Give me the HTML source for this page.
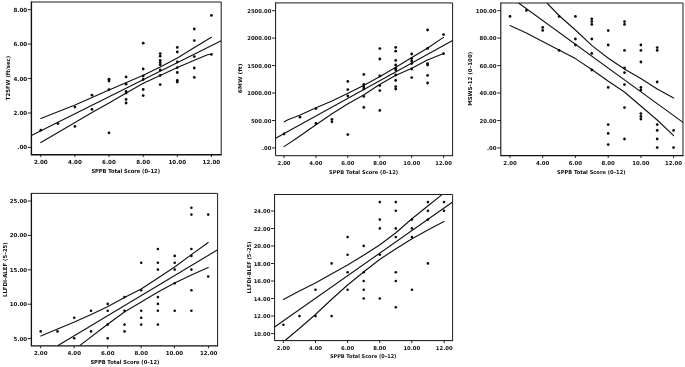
<!DOCTYPE html>
<html><head><meta charset="utf-8"><title>SPPB scatter plots</title>
<style>
html,body{margin:0;padding:0;background:#fff;}
body{width:685px;height:367px;overflow:hidden;}
svg{display:block;will-change:transform;}
text{font-family:'DejaVu Sans','Liberation Sans',sans-serif;font-weight:bold;fill:#111;}
.ln{fill:none;stroke:#111;stroke-width:1.12;stroke-linejoin:round;stroke-linecap:round;}
.d{fill:#0a0a0a;}
</style></head><body>
<svg width="685" height="367" viewBox="0 0 685 367">
<rect width="685" height="367" fill="#fff"/>
<g style="font-size:5.6px">
<path d="M31.4 2.0H221.2V154.7" fill="none" stroke="#1c1c1c" stroke-width="1"/>
<path d="M31.4 1.5V154.7H221.7" fill="none" stroke="#111" stroke-width="1.4"/>
<path d="M27.8 9.7h3.6M27.8 44.1h3.6M27.8 78.5h3.6M27.8 113.0h3.6M27.8 147.4h3.6M40.8 154.7v2.4M74.9 154.7v2.4M109.0 154.7v2.4M143.2 154.7v2.4M177.3 154.7v2.4M211.4 154.7v2.4" stroke="#111" stroke-width="0.9" fill="none"/>
<text class="tk" x="27.2" y="11.7" text-anchor="end">8.00</text>
<text class="tk" x="27.2" y="46.1" text-anchor="end">6.00</text>
<text class="tk" x="27.2" y="80.5" text-anchor="end">4.00</text>
<text class="tk" x="27.2" y="115.0" text-anchor="end">2.00</text>
<text class="tk" x="27.2" y="149.4" text-anchor="end">.00</text>
<text class="tk" x="40.8" y="163.8" text-anchor="middle">2.00</text>
<text class="tk" x="74.9" y="163.8" text-anchor="middle">4.00</text>
<text class="tk" x="109.0" y="163.8" text-anchor="middle">6.00</text>
<text class="tk" x="143.2" y="163.8" text-anchor="middle">8.00</text>
<text class="tk" x="177.3" y="163.8" text-anchor="middle">10.00</text>
<text class="tk" x="211.4" y="163.8" text-anchor="middle">12.00</text>
<text class="tt" x="125.7" y="173.4" text-anchor="middle" textLength="68.6" lengthAdjust="spacingAndGlyphs">SPPB Total Score (0–12)</text>
<text class="tt" transform="translate(9.9 78.0) rotate(-90)" text-anchor="middle" textLength="44.4" lengthAdjust="spacingAndGlyphs">T25FW (ft/sec)</text>
<clipPath id="c1"><rect x="31.4" y="2.0" width="189.8" height="152.7"/></clipPath>
<g clip-path="url(#c1)">
<polyline class="ln" points="31.4,135.6 221.2,40.8"/>
<polyline class="ln" points="40.8,118.5 75.0,105.0 109.0,90.0 143.3,75.3 160.2,67.0 177.4,58.0 194.4,47.5 211.4,37.2"/>
<polyline class="ln" points="40.8,142.6 58.0,132.4 75.0,122.4 92.0,112.5 109.0,103.0 126.2,93.0 143.3,83.3 160.2,75.4 177.4,67.6 194.4,60.3 207.5,54.7 211.4,54.3"/>
</g>
<circle class="d" cx="40.8" cy="130.2" r="1.38"/>
<circle class="d" cx="57.9" cy="123.6" r="1.38"/>
<circle class="d" cx="74.9" cy="107.1" r="1.38"/>
<circle class="d" cx="74.9" cy="126.4" r="1.38"/>
<circle class="d" cx="92.0" cy="95.2" r="1.38"/>
<circle class="d" cx="92.0" cy="109.4" r="1.38"/>
<circle class="d" cx="109.0" cy="79.2" r="1.38"/>
<circle class="d" cx="109.0" cy="81.0" r="1.38"/>
<circle class="d" cx="109.0" cy="89.6" r="1.38"/>
<circle class="d" cx="109.0" cy="132.8" r="1.38"/>
<circle class="d" cx="126.1" cy="76.9" r="1.38"/>
<circle class="d" cx="126.1" cy="84.2" r="1.38"/>
<circle class="d" cx="126.1" cy="91.4" r="1.38"/>
<circle class="d" cx="126.1" cy="93.0" r="1.38"/>
<circle class="d" cx="126.1" cy="99.4" r="1.38"/>
<circle class="d" cx="126.1" cy="103.0" r="1.38"/>
<circle class="d" cx="143.2" cy="43.2" r="1.38"/>
<circle class="d" cx="143.2" cy="69.0" r="1.38"/>
<circle class="d" cx="143.2" cy="76.0" r="1.38"/>
<circle class="d" cx="143.2" cy="79.5" r="1.38"/>
<circle class="d" cx="143.2" cy="89.5" r="1.38"/>
<circle class="d" cx="143.2" cy="95.6" r="1.38"/>
<circle class="d" cx="160.2" cy="53.6" r="1.38"/>
<circle class="d" cx="160.2" cy="56.2" r="1.38"/>
<circle class="d" cx="160.2" cy="60.5" r="1.38"/>
<circle class="d" cx="160.2" cy="62.6" r="1.38"/>
<circle class="d" cx="160.2" cy="64.7" r="1.38"/>
<circle class="d" cx="160.2" cy="70.0" r="1.38"/>
<circle class="d" cx="160.2" cy="75.4" r="1.38"/>
<circle class="d" cx="160.2" cy="84.6" r="1.38"/>
<circle class="d" cx="177.3" cy="47.4" r="1.38"/>
<circle class="d" cx="177.3" cy="52.0" r="1.38"/>
<circle class="d" cx="177.3" cy="62.0" r="1.38"/>
<circle class="d" cx="177.3" cy="67.6" r="1.38"/>
<circle class="d" cx="177.3" cy="72.5" r="1.38"/>
<circle class="d" cx="177.3" cy="80.4" r="1.38"/>
<circle class="d" cx="177.3" cy="82.0" r="1.38"/>
<circle class="d" cx="194.3" cy="29.0" r="1.38"/>
<circle class="d" cx="194.3" cy="40.6" r="1.38"/>
<circle class="d" cx="194.3" cy="56.6" r="1.38"/>
<circle class="d" cx="194.3" cy="68.0" r="1.38"/>
<circle class="d" cx="194.3" cy="77.4" r="1.38"/>
<circle class="d" cx="211.4" cy="15.4" r="1.38"/>
<circle class="d" cx="211.4" cy="54.4" r="1.38"/>
</g>
<g style="font-size:5.3px">
<path d="M275.6 2.9H452.6V155.7" fill="none" stroke="#1c1c1c" stroke-width="1"/>
<path d="M275.6 2.4V155.7H453.1" fill="none" stroke="#111" stroke-width="1.0"/>
<path d="M272.0 10.7h3.6M272.0 38.1h3.6M272.0 65.6h3.6M272.0 93.0h3.6M272.0 120.5h3.6M272.0 147.9h3.6M284.0 155.7v2.4M315.9 155.7v2.4M347.8 155.7v2.4M379.8 155.7v2.4M411.7 155.7v2.4M443.6 155.7v2.4" stroke="#111" stroke-width="0.9" fill="none"/>
<text class="tk" x="271.4" y="12.7" text-anchor="end">2500.00</text>
<text class="tk" x="271.4" y="40.1" text-anchor="end">2000.00</text>
<text class="tk" x="271.4" y="67.6" text-anchor="end">1500.00</text>
<text class="tk" x="271.4" y="95.0" text-anchor="end">1000.00</text>
<text class="tk" x="271.4" y="122.5" text-anchor="end">500.00</text>
<text class="tk" x="271.4" y="149.9" text-anchor="end">.00</text>
<text class="tk" x="284.0" y="164.9" text-anchor="middle">2.00</text>
<text class="tk" x="315.9" y="164.9" text-anchor="middle">4.00</text>
<text class="tk" x="347.8" y="164.9" text-anchor="middle">6.00</text>
<text class="tk" x="379.8" y="164.9" text-anchor="middle">8.00</text>
<text class="tk" x="411.7" y="164.9" text-anchor="middle">10.00</text>
<text class="tk" x="443.6" y="164.9" text-anchor="middle">12.00</text>
<text class="tt" x="363.6" y="174.2" text-anchor="middle" textLength="69.0" lengthAdjust="spacingAndGlyphs">SPPB Total Score (0–12)</text>
<text class="tt" transform="translate(242.4 78.4) rotate(-90)" text-anchor="middle" textLength="29.5" lengthAdjust="spacingAndGlyphs">6MW (ft)</text>
<clipPath id="c2"><rect x="275.6" y="2.9" width="177.0" height="152.8"/></clipPath>
<g clip-path="url(#c2)">
<polyline class="ln" points="275.6,138.3 452.6,40.5"/>
<polyline class="ln" points="284.2,121.8 288.0,119.8 300.2,115.0 316.0,107.8 332.0,101.0 348.0,93.2 364.0,85.2 379.6,76.8 395.4,67.6 411.4,57.8 427.4,48.2 443.4,37.4"/>
<polyline class="ln" points="284.0,146.6 297.0,138.0 316.0,124.8 332.0,113.7 348.0,103.8 364.0,94.7 379.6,84.5 395.4,75.5 411.4,68.4 427.4,60.0 443.6,53.6"/>
</g>
<circle class="d" cx="284.0" cy="134.0" r="1.38"/>
<circle class="d" cx="300.0" cy="117.2" r="1.38"/>
<circle class="d" cx="315.9" cy="108.6" r="1.38"/>
<circle class="d" cx="315.9" cy="123.4" r="1.38"/>
<circle class="d" cx="331.9" cy="119.4" r="1.38"/>
<circle class="d" cx="331.9" cy="121.8" r="1.38"/>
<circle class="d" cx="347.8" cy="81.4" r="1.38"/>
<circle class="d" cx="347.8" cy="89.6" r="1.38"/>
<circle class="d" cx="347.8" cy="96.0" r="1.38"/>
<circle class="d" cx="347.8" cy="134.6" r="1.38"/>
<circle class="d" cx="363.8" cy="74.4" r="1.38"/>
<circle class="d" cx="363.8" cy="84.4" r="1.38"/>
<circle class="d" cx="363.8" cy="87.0" r="1.38"/>
<circle class="d" cx="363.8" cy="89.0" r="1.38"/>
<circle class="d" cx="363.8" cy="96.4" r="1.38"/>
<circle class="d" cx="363.8" cy="107.4" r="1.38"/>
<circle class="d" cx="379.8" cy="48.6" r="1.38"/>
<circle class="d" cx="379.8" cy="59.0" r="1.38"/>
<circle class="d" cx="379.8" cy="76.0" r="1.38"/>
<circle class="d" cx="379.8" cy="85.6" r="1.38"/>
<circle class="d" cx="379.8" cy="90.6" r="1.38"/>
<circle class="d" cx="379.8" cy="110.4" r="1.38"/>
<circle class="d" cx="395.7" cy="47.4" r="1.38"/>
<circle class="d" cx="395.7" cy="51.2" r="1.38"/>
<circle class="d" cx="395.7" cy="60.4" r="1.38"/>
<circle class="d" cx="395.7" cy="65.0" r="1.38"/>
<circle class="d" cx="395.7" cy="68.2" r="1.38"/>
<circle class="d" cx="395.7" cy="70.0" r="1.38"/>
<circle class="d" cx="395.7" cy="75.0" r="1.38"/>
<circle class="d" cx="395.7" cy="80.4" r="1.38"/>
<circle class="d" cx="395.7" cy="86.6" r="1.38"/>
<circle class="d" cx="395.7" cy="89.0" r="1.38"/>
<circle class="d" cx="411.7" cy="54.0" r="1.38"/>
<circle class="d" cx="411.7" cy="58.6" r="1.38"/>
<circle class="d" cx="411.7" cy="61.0" r="1.38"/>
<circle class="d" cx="411.7" cy="63.6" r="1.38"/>
<circle class="d" cx="411.7" cy="69.0" r="1.38"/>
<circle class="d" cx="411.7" cy="77.6" r="1.38"/>
<circle class="d" cx="427.6" cy="30.0" r="1.38"/>
<circle class="d" cx="427.6" cy="48.4" r="1.38"/>
<circle class="d" cx="427.6" cy="63.6" r="1.38"/>
<circle class="d" cx="427.6" cy="65.0" r="1.38"/>
<circle class="d" cx="427.6" cy="75.4" r="1.38"/>
<circle class="d" cx="427.6" cy="83.0" r="1.38"/>
<circle class="d" cx="443.6" cy="34.6" r="1.38"/>
<circle class="d" cx="443.6" cy="53.6" r="1.38"/>
</g>
<g style="font-size:5.4px">
<path d="M500.8 3.0H683.0V155.6" fill="none" stroke="#1c1c1c" stroke-width="1"/>
<path d="M500.8 2.5V155.6H683.5" fill="none" stroke="#111" stroke-width="1.1"/>
<path d="M497.2 10.7h3.6M497.2 38.1h3.6M497.2 65.6h3.6M497.2 93.0h3.6M497.2 120.5h3.6M497.2 147.9h3.6M510.0 155.6v2.4M542.7 155.6v2.4M575.4 155.6v2.4M608.2 155.6v2.4M640.9 155.6v2.4M673.6 155.6v2.4" stroke="#111" stroke-width="0.9" fill="none"/>
<text class="tk" x="496.6" y="12.7" text-anchor="end">100.00</text>
<text class="tk" x="496.6" y="40.1" text-anchor="end">80.00</text>
<text class="tk" x="496.6" y="67.6" text-anchor="end">60.00</text>
<text class="tk" x="496.6" y="95.0" text-anchor="end">40.00</text>
<text class="tk" x="496.6" y="122.5" text-anchor="end">20.00</text>
<text class="tk" x="496.6" y="149.9" text-anchor="end">.00</text>
<text class="tk" x="510.0" y="164.9" text-anchor="middle">2.00</text>
<text class="tk" x="542.7" y="164.9" text-anchor="middle">4.00</text>
<text class="tk" x="575.4" y="164.9" text-anchor="middle">6.00</text>
<text class="tk" x="608.2" y="164.9" text-anchor="middle">8.00</text>
<text class="tk" x="640.9" y="164.9" text-anchor="middle">10.00</text>
<text class="tk" x="673.6" y="164.9" text-anchor="middle">12.00</text>
<text class="tt" x="591.3" y="174.2" text-anchor="middle" textLength="68.6" lengthAdjust="spacingAndGlyphs">SPPB Total Score (0–12)</text>
<text class="tt" transform="translate(471.9 78.8) rotate(-90)" text-anchor="middle" textLength="54.0" lengthAdjust="spacingAndGlyphs">MSWS-12 (0–100)</text>
<clipPath id="c3"><rect x="500.8" y="3.0" width="182.2" height="152.6"/></clipPath>
<g clip-path="url(#c3)">
<polyline class="ln" points="518.6,3.0 683.0,122.4"/>
<polyline class="ln" points="547.0,3.0 559.0,15.5 575.4,30.0 592.0,45.6 608.0,58.0 624.4,69.0 640.8,78.5 657.2,89.0 673.6,98.0"/>
<polyline class="ln" points="510.0,25.6 526.4,33.0 542.6,41.4 559.0,50.0 575.4,58.6 591.8,69.5 608.0,81.0 624.4,92.0 640.8,106.0 657.2,120.0 673.6,135.6"/>
</g>
<circle class="d" cx="510.0" cy="16.4" r="1.38"/>
<circle class="d" cx="526.4" cy="10.4" r="1.38"/>
<circle class="d" cx="542.7" cy="27.4" r="1.38"/>
<circle class="d" cx="542.7" cy="30.4" r="1.38"/>
<circle class="d" cx="559.1" cy="16.4" r="1.38"/>
<circle class="d" cx="559.1" cy="50.4" r="1.38"/>
<circle class="d" cx="575.4" cy="16.4" r="1.38"/>
<circle class="d" cx="575.4" cy="39.0" r="1.38"/>
<circle class="d" cx="575.4" cy="45.0" r="1.38"/>
<circle class="d" cx="591.8" cy="19.0" r="1.38"/>
<circle class="d" cx="591.8" cy="21.6" r="1.38"/>
<circle class="d" cx="591.8" cy="24.4" r="1.38"/>
<circle class="d" cx="591.8" cy="39.0" r="1.38"/>
<circle class="d" cx="591.8" cy="53.4" r="1.38"/>
<circle class="d" cx="591.8" cy="70.0" r="1.38"/>
<circle class="d" cx="608.2" cy="30.6" r="1.38"/>
<circle class="d" cx="608.2" cy="45.0" r="1.38"/>
<circle class="d" cx="608.2" cy="87.4" r="1.38"/>
<circle class="d" cx="608.2" cy="124.6" r="1.38"/>
<circle class="d" cx="608.2" cy="133.4" r="1.38"/>
<circle class="d" cx="608.2" cy="144.6" r="1.38"/>
<circle class="d" cx="624.5" cy="21.6" r="1.38"/>
<circle class="d" cx="624.5" cy="24.4" r="1.38"/>
<circle class="d" cx="624.5" cy="50.4" r="1.38"/>
<circle class="d" cx="624.5" cy="68.0" r="1.38"/>
<circle class="d" cx="624.5" cy="72.6" r="1.38"/>
<circle class="d" cx="624.5" cy="84.6" r="1.38"/>
<circle class="d" cx="624.5" cy="107.6" r="1.38"/>
<circle class="d" cx="624.5" cy="139.0" r="1.38"/>
<circle class="d" cx="640.9" cy="45.0" r="1.38"/>
<circle class="d" cx="640.9" cy="50.4" r="1.38"/>
<circle class="d" cx="640.9" cy="62.0" r="1.38"/>
<circle class="d" cx="640.9" cy="87.4" r="1.38"/>
<circle class="d" cx="640.9" cy="90.0" r="1.38"/>
<circle class="d" cx="640.9" cy="113.6" r="1.38"/>
<circle class="d" cx="640.9" cy="116.4" r="1.38"/>
<circle class="d" cx="640.9" cy="119.0" r="1.38"/>
<circle class="d" cx="657.2" cy="47.6" r="1.38"/>
<circle class="d" cx="657.2" cy="50.4" r="1.38"/>
<circle class="d" cx="657.2" cy="82.0" r="1.38"/>
<circle class="d" cx="657.2" cy="124.6" r="1.38"/>
<circle class="d" cx="657.2" cy="130.4" r="1.38"/>
<circle class="d" cx="657.2" cy="139.0" r="1.38"/>
<circle class="d" cx="657.2" cy="147.6" r="1.38"/>
<circle class="d" cx="673.6" cy="130.4" r="1.38"/>
<circle class="d" cx="673.6" cy="147.6" r="1.38"/>
</g>
<g style="font-size:5.5px">
<path d="M31.4 193.4H217.6V345.9" fill="none" stroke="#1c1c1c" stroke-width="1"/>
<path d="M31.4 192.9V345.9H218.1" fill="none" stroke="#111" stroke-width="1.3"/>
<path d="M27.8 201.0h3.6M27.8 235.4h3.6M27.8 269.8h3.6M27.8 304.2h3.6M27.8 338.6h3.6M40.7 345.9v2.4M74.2 345.9v2.4M107.7 345.9v2.4M141.2 345.9v2.4M174.4 345.9v2.4M208.6 345.9v2.4" stroke="#111" stroke-width="0.9" fill="none"/>
<text class="tk" x="27.2" y="203.0" text-anchor="end">25.00</text>
<text class="tk" x="27.2" y="237.4" text-anchor="end">20.00</text>
<text class="tk" x="27.2" y="271.8" text-anchor="end">15.00</text>
<text class="tk" x="27.2" y="306.2" text-anchor="end">10.00</text>
<text class="tk" x="27.2" y="340.6" text-anchor="end">5.00</text>
<text class="tk" x="40.7" y="355.1" text-anchor="middle">2.00</text>
<text class="tk" x="74.2" y="355.1" text-anchor="middle">4.00</text>
<text class="tk" x="107.7" y="355.1" text-anchor="middle">6.00</text>
<text class="tk" x="141.2" y="355.1" text-anchor="middle">8.00</text>
<text class="tk" x="174.4" y="355.1" text-anchor="middle">10.00</text>
<text class="tk" x="208.6" y="355.1" text-anchor="middle">12.00</text>
<text class="tt" x="124.9" y="363.9" text-anchor="middle" textLength="69.0" lengthAdjust="spacingAndGlyphs">SPPB Total Score (0–12)</text>
<text class="tt" transform="translate(6.8 269.6) rotate(-90)" text-anchor="middle" textLength="54.8" lengthAdjust="spacingAndGlyphs">LLFDI-ALEF (5–25)</text>
<clipPath id="c4"><rect x="31.4" y="193.4" width="186.2" height="152.5"/></clipPath>
<g clip-path="url(#c4)">
<polyline class="ln" points="58.0,345.4 217.6,249.8"/>
<polyline class="ln" points="40.8,336.0 57.6,329.0 74.4,322.0 91.2,314.5 108.0,306.5 124.4,297.5 141.2,289.0 158.0,278.0 174.6,267.0 191.4,254.6 208.2,242.5"/>
<polyline class="ln" points="80.0,345.4 108.0,324.0 124.4,312.0 141.2,302.0 158.0,292.0 174.6,283.0 191.4,275.0 208.2,267.6"/>
</g>
<circle class="d" cx="40.7" cy="331.4" r="1.3"/>
<circle class="d" cx="57.5" cy="331.4" r="1.3"/>
<circle class="d" cx="74.2" cy="317.7" r="1.3"/>
<circle class="d" cx="74.2" cy="338.3" r="1.3"/>
<circle class="d" cx="91.0" cy="310.8" r="1.3"/>
<circle class="d" cx="91.0" cy="331.4" r="1.3"/>
<circle class="d" cx="107.7" cy="303.9" r="1.3"/>
<circle class="d" cx="107.7" cy="310.8" r="1.3"/>
<circle class="d" cx="107.7" cy="324.6" r="1.3"/>
<circle class="d" cx="107.7" cy="338.3" r="1.3"/>
<circle class="d" cx="124.5" cy="297.1" r="1.3"/>
<circle class="d" cx="124.5" cy="310.8" r="1.3"/>
<circle class="d" cx="124.5" cy="324.6" r="1.3"/>
<circle class="d" cx="124.5" cy="331.4" r="1.3"/>
<circle class="d" cx="141.2" cy="262.7" r="1.3"/>
<circle class="d" cx="141.2" cy="290.2" r="1.3"/>
<circle class="d" cx="141.2" cy="310.8" r="1.3"/>
<circle class="d" cx="141.2" cy="317.7" r="1.3"/>
<circle class="d" cx="141.2" cy="324.6" r="1.3"/>
<circle class="d" cx="157.9" cy="249.0" r="1.3"/>
<circle class="d" cx="157.9" cy="262.7" r="1.3"/>
<circle class="d" cx="157.9" cy="269.6" r="1.3"/>
<circle class="d" cx="157.9" cy="297.1" r="1.3"/>
<circle class="d" cx="157.9" cy="303.9" r="1.3"/>
<circle class="d" cx="157.9" cy="310.8" r="1.3"/>
<circle class="d" cx="157.9" cy="324.6" r="1.3"/>
<circle class="d" cx="174.7" cy="255.9" r="1.3"/>
<circle class="d" cx="174.7" cy="262.7" r="1.3"/>
<circle class="d" cx="174.7" cy="269.6" r="1.3"/>
<circle class="d" cx="174.7" cy="283.3" r="1.3"/>
<circle class="d" cx="174.7" cy="310.8" r="1.3"/>
<circle class="d" cx="191.4" cy="207.8" r="1.3"/>
<circle class="d" cx="191.4" cy="214.6" r="1.3"/>
<circle class="d" cx="191.4" cy="249.0" r="1.3"/>
<circle class="d" cx="191.4" cy="255.9" r="1.3"/>
<circle class="d" cx="191.4" cy="269.6" r="1.3"/>
<circle class="d" cx="191.4" cy="290.2" r="1.3"/>
<circle class="d" cx="191.4" cy="310.8" r="1.3"/>
<circle class="d" cx="208.2" cy="214.6" r="1.3"/>
<circle class="d" cx="208.2" cy="276.5" r="1.3"/>
</g>
<g style="font-size:5.3px">
<path d="M274.6 194.5H452.6V340.6" fill="none" stroke="#1c1c1c" stroke-width="1"/>
<path d="M274.6 194.0V340.6H453.1" fill="none" stroke="#111" stroke-width="1.0"/>
<path d="M271.0 211.0h3.6M271.0 228.5h3.6M271.0 246.0h3.6M271.0 263.5h3.6M271.0 281.0h3.6M271.0 298.5h3.6M271.0 316.0h3.6M271.0 333.6h3.6M283.4 340.6v2.4M315.5 340.6v2.4M347.6 340.6v2.4M379.7 340.6v2.4M411.8 340.6v2.4M444.2 340.6v2.4" stroke="#111" stroke-width="0.9" fill="none"/>
<text class="tk" x="270.4" y="213.0" text-anchor="end">24.00</text>
<text class="tk" x="270.4" y="230.5" text-anchor="end">22.00</text>
<text class="tk" x="270.4" y="248.0" text-anchor="end">20.00</text>
<text class="tk" x="270.4" y="265.5" text-anchor="end">18.00</text>
<text class="tk" x="270.4" y="283.0" text-anchor="end">16.00</text>
<text class="tk" x="270.4" y="300.5" text-anchor="end">14.00</text>
<text class="tk" x="270.4" y="318.0" text-anchor="end">12.00</text>
<text class="tk" x="270.4" y="335.6" text-anchor="end">10.00</text>
<text class="tk" x="283.4" y="349.5" text-anchor="middle">2.00</text>
<text class="tk" x="315.5" y="349.5" text-anchor="middle">4.00</text>
<text class="tk" x="347.6" y="349.5" text-anchor="middle">6.00</text>
<text class="tk" x="379.7" y="349.5" text-anchor="middle">8.00</text>
<text class="tk" x="411.8" y="349.5" text-anchor="middle">10.00</text>
<text class="tk" x="444.2" y="349.5" text-anchor="middle">12.00</text>
<text class="tt" x="363.2" y="358.3" text-anchor="middle" textLength="66.3" lengthAdjust="spacingAndGlyphs">SPPB Total Score (0–12)</text>
<text class="tt" transform="translate(251.1 267.6) rotate(-90)" text-anchor="middle" textLength="52.0" lengthAdjust="spacingAndGlyphs">LLFDI-BLEF (5–25)</text>
<clipPath id="c5"><rect x="274.6" y="194.5" width="178.0" height="146.1"/></clipPath>
<g clip-path="url(#c5)">
<polyline class="ln" points="274.6,327.0 452.6,202.0"/>
<polyline class="ln" points="283.4,299.4 299.4,291.0 315.4,283.0 331.4,274.0 347.6,265.0 363.6,255.3 379.6,245.0 395.6,233.0 411.6,219.0 427.8,206.0 442.0,194.6"/>
<polyline class="ln" points="285.6,340.0 299.4,328.5 315.4,314.5 331.4,299.5 347.6,285.0 363.6,272.0 379.6,259.5 395.6,249.0 411.6,239.0 427.8,230.0 444.0,221.6"/>
</g>
<circle class="d" cx="283.4" cy="324.8" r="1.3"/>
<circle class="d" cx="299.5" cy="316.1" r="1.3"/>
<circle class="d" cx="315.5" cy="316.1" r="1.3"/>
<circle class="d" cx="315.5" cy="289.8" r="1.3"/>
<circle class="d" cx="331.6" cy="316.1" r="1.3"/>
<circle class="d" cx="331.6" cy="263.4" r="1.3"/>
<circle class="d" cx="347.6" cy="237.1" r="1.3"/>
<circle class="d" cx="347.6" cy="254.7" r="1.3"/>
<circle class="d" cx="347.6" cy="272.2" r="1.3"/>
<circle class="d" cx="347.6" cy="289.8" r="1.3"/>
<circle class="d" cx="363.7" cy="245.9" r="1.3"/>
<circle class="d" cx="363.7" cy="272.2" r="1.3"/>
<circle class="d" cx="363.7" cy="281.0" r="1.3"/>
<circle class="d" cx="363.7" cy="289.8" r="1.3"/>
<circle class="d" cx="363.7" cy="298.5" r="1.3"/>
<circle class="d" cx="379.8" cy="202.1" r="1.3"/>
<circle class="d" cx="379.8" cy="219.6" r="1.3"/>
<circle class="d" cx="379.8" cy="228.4" r="1.3"/>
<circle class="d" cx="379.8" cy="254.7" r="1.3"/>
<circle class="d" cx="379.8" cy="298.5" r="1.3"/>
<circle class="d" cx="395.8" cy="202.1" r="1.3"/>
<circle class="d" cx="395.8" cy="210.8" r="1.3"/>
<circle class="d" cx="395.8" cy="228.4" r="1.3"/>
<circle class="d" cx="395.8" cy="237.1" r="1.3"/>
<circle class="d" cx="395.8" cy="272.2" r="1.3"/>
<circle class="d" cx="395.8" cy="281.0" r="1.3"/>
<circle class="d" cx="395.8" cy="307.3" r="1.3"/>
<circle class="d" cx="411.9" cy="219.6" r="1.3"/>
<circle class="d" cx="411.9" cy="228.4" r="1.3"/>
<circle class="d" cx="411.9" cy="237.1" r="1.3"/>
<circle class="d" cx="411.9" cy="289.8" r="1.3"/>
<circle class="d" cx="427.9" cy="202.1" r="1.3"/>
<circle class="d" cx="427.9" cy="210.8" r="1.3"/>
<circle class="d" cx="427.9" cy="219.6" r="1.3"/>
<circle class="d" cx="427.9" cy="263.4" r="1.3"/>
<circle class="d" cx="444.0" cy="202.1" r="1.3"/>
<circle class="d" cx="444.0" cy="210.8" r="1.3"/>
</g>
</svg>
</body></html>
